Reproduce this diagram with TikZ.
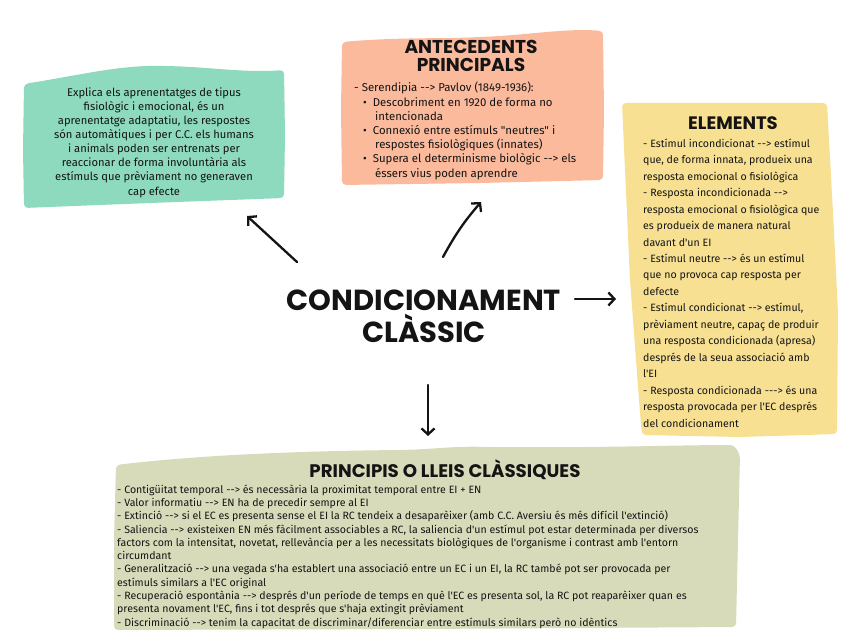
\documentclass[tikz,border=0pt]{standalone}
\usepackage{fontspec}
\setmainfont{Fira Sans}[Ligatures=TeXOff]
\newfontfamily\titlefont{Poppins}[Ligatures=TeXOff]
\usetikzlibrary{arrows.meta}
\definecolor{cgreen}{RGB}{142,218,190}
\definecolor{csalmon}{RGB}{252,186,157}
\definecolor{cyellow}{RGB}{247,224,146}
\definecolor{colive}{RGB}{216,219,186}
\definecolor{cink}{RGB}{20,20,20}
\tikzset{
  box/.style={rounded corners=4pt},
  body/.style={inner sep=0pt, text=cink, align=left},
  ttl/.style={inner sep=0pt, text=cink, align=center, font=\titlefont\bfseries},
  arr/.style={draw=cink, line width=2.3pt, line cap=round, line join=round,
    -{Straight Barb[length=6pt,width=13pt,line width=2.3pt]}}
}
\begin{document}
\begin{tikzpicture}[x=1pt,y=-1pt]
\useasboundingbox (0,0) rectangle (848,636);
\fill[white] (0,0) rectangle (848,636);

% green box
\fill[cgreen, box] (24,84) .. controls (80,75) and (120,65) .. (165,66)
  .. controls (210,67) and (245,73) .. (284,70)
  -- (285,135) -- (284,198) -- (150,203) -- (24,208) -- (23,150) -- cycle;
% salmon box
\fill[csalmon, box] (342,42) .. controls (400,37) and (440,39) .. (480,37)
  .. controls (530,35) and (565,28) .. (603,31)
  -- (604,110) -- (603,180) -- (480,183) -- (342,185) -- (341,110) -- cycle;
% yellow box
\fill[cyellow, box] (622,103) -- (827,103) -- (833,213) -- (838,313) -- (837,434)
  -- (740,437) -- (642,435) -- (640,413) -- (630,280) -- cycle;
% olive box
\fill[colive, box] (116,465) .. controls (200,455) and (300,451) .. (400,450)
  .. controls (440,449) and (450,446) .. (489,447)
  .. controls (600,448) and (680,445) .. (734,445)
  -- (740,455) -- (738,540) -- (736,627)
  -- (420,629) -- (114,630) -- (114,540) -- cycle;

% centre title
\node[ttl, font=\titlefont\bfseries\fontsize{29}{32}\selectfont] (main) at (424,316)
  {CONDICIONAMENT\\CLÀSSIC};

% green text
\node[body, align=center, font=\fontsize{11.2}{14.1}\selectfont] (green) at (154,142.5)
  {Explica els aprenentatges de tipus\\
   fisiològic i emocional, és un\\
   aprenentatge adaptatiu, les respostes\\
   són automàtiques i per C.C. els humans\\
   i animals poden ser entrenats per\\
   reaccionar de forma involuntària als\\
   estímuls que prèviament no generaven\\
   cap efecte};

% salmon
\node[ttl, font=\titlefont\bfseries\fontsize{18.6}{18.5}\selectfont] (antt) at (471,56)
  {ANTECEDENTS\\PRINCIPALS};
\node[body, anchor=north west, font=\fontsize{11.4}{14.2}\selectfont] (antb) at (354,82)
  {- Serendipia --> Pavlov (1849-1936):\\
   \hspace*{9pt}\textbullet\hspace{6pt}Descobriment en 1920 de forma no\\
   \hspace*{21pt}intencionada\\
   \hspace*{9pt}\textbullet\hspace{6pt}Connexió entre estímuls "neutres" i\\
   \hspace*{21pt}respostes fisiològiques (innates)\\
   \hspace*{9pt}\textbullet\hspace{6pt}Supera el determinisme biològic --> els\\
   \hspace*{21pt}éssers vius poden aprendre};

% yellow
\node[ttl, font=\titlefont\bfseries\fontsize{18}{18}\selectfont] (elt) at (733,123)
  {ELEMENTS};
\node[body, anchor=north west, font=\fontsize{10.6}{16.47}\selectfont] (elb) at (643,138.5)
  {- Estímul incondicionat --> estímul\\
   que, de forma innata, produeix una\\
   resposta emocional o fisiològica\\
   - Resposta incondicionada -->\\
   resposta emocional o fisiològica que\\
   es produeix de manera natural\\
   davant d'un EI\\
   - Estímul neutre --> és un estímul\\
   que no provoca cap resposta per\\
   defecte\\
   - Estímul condicionat --> estímul,\\
   prèviament neutre, capaç de produir\\
   una resposta condicionada (apresa)\\
   després de la seua associació amb\\
   l'EI\\
   - Resposta condicionada ---> és una\\
   resposta provocada per l'EC després\\
   del condicionament};

% olive
\node[ttl, font=\titlefont\bfseries\fontsize{18.2}{18}\selectfont] (prt) at (445,470)
  {PRINCIPIS O LLEIS CLÀSSIQUES};
\node[body, anchor=north west, font=\fontsize{10.6}{13.3}\selectfont] (prb) at (117,484.5)
  {- Contigüitat temporal --> és necessària la proximitat temporal entre EI + EN\\
   - Valor informatiu --> EN ha de precedir sempre al EI\\
   - Extinció --> si el EC es presenta sense el EI la RC tendeix a desaparèixer (amb C.C. Aversiu és més difícil l'extinció)\\
   - Saliencia --> existeixen EN més fàcilment associables a RC, la saliencia d'un estímul pot estar determinada per diversos\\
   factors com la intensitat, novetat, rellevància per a les necessitats biològiques de l'organisme i contrast amb l'entorn\\
   circumdant\\
   - Generalització --> una vegada s'ha establert una associació entre un EC i un EI, la RC també pot ser provocada per\\
   estímuls similars a l'EC original\\
   - Recuperació espontània --> després d'un període de temps en què l'EC es presenta sol, la RC pot reaparèixer quan es\\
   presenta novament l'EC, fins i tot després que s'haja extingit prèviament\\
   - Discriminació --> tenim la capacitat de discriminar/diferenciar entre estímuls similars però no idèntics};

% arrows
\coordinate (a1s) at (297,262); \coordinate (a1e) at (247,216);
\coordinate (a2s) at (443,257); \coordinate (a2e) at (481,202);
\coordinate (a3s) at (575,299); \coordinate (a3e) at (616,299);
\coordinate (a4s) at (428,385); \coordinate (a4e) at (428,436);
\draw[arr] (a1s) -- (a1e);
\draw[arr] (a2s) to[bend left=6] (a2e);
\draw[arr] (a3s) -- (a3e);
\draw[arr] (a4s) -- (a4e);
\end{tikzpicture}
\end{document}
